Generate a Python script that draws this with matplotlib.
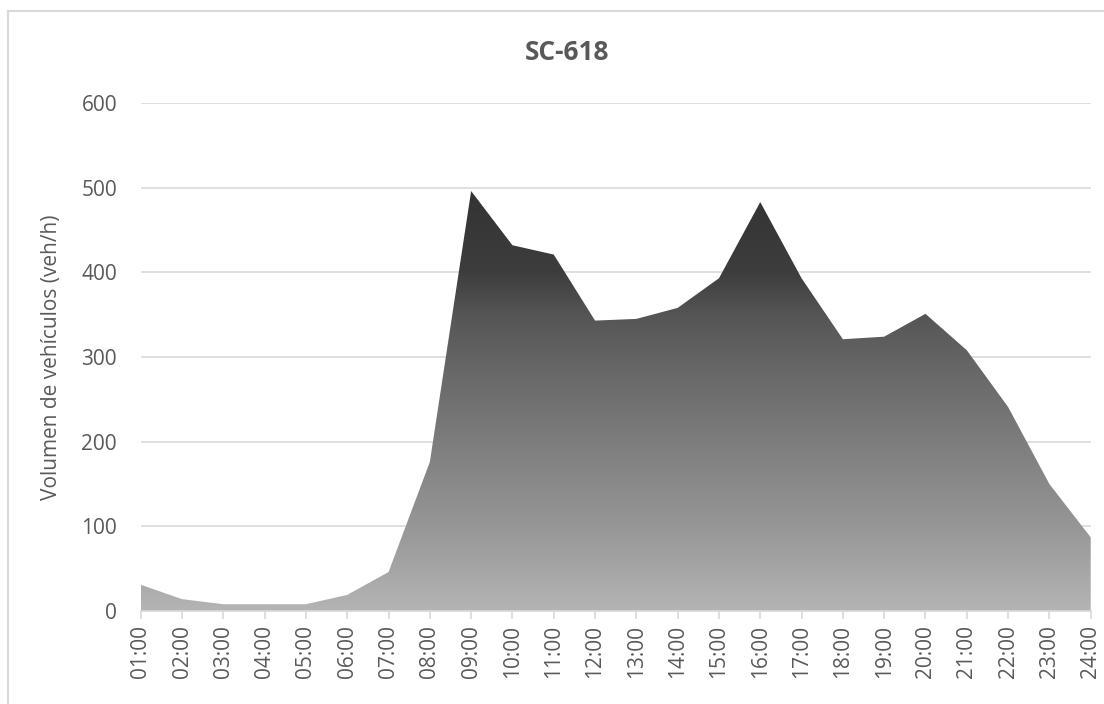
import numpy as np
import matplotlib.pyplot as plt
from matplotlib.colors import LinearSegmentedColormap
from matplotlib.lines import Line2D

hours = ["01:00", "02:00", "03:00", "04:00", "05:00", "06:00", "07:00", "08:00",
         "09:00", "10:00", "11:00", "12:00", "13:00", "14:00", "15:00", "16:00",
         "17:00", "18:00", "19:00", "20:00", "21:00", "22:00", "23:00", "24:00"]
volume = [31, 14, 8, 8, 8, 19, 46, 176, 496, 432, 421, 343, 345, 358, 393, 483,
          393, 321, 324, 351, 308, 241, 150, 87]

title = "SC-618"
ylabel = "Volumen de vehículos (veh/h)"

plt.rcParams["font.family"] = ["Open Sans", "DejaVu Sans"]
text_color = "#595959"
grid_color = "#d9d9d9"

fig = plt.figure(figsize=(11.04, 7.04), dpi=100)
ax = fig.add_axes([140.7 / 1104, (704 - 611) / 704, 950 / 1104, 508 / 704])

x = np.arange(len(hours))
y = np.asarray(volume, dtype=float)

# area outline, then a vertical gray gradient clipped to it
poly = ax.fill_between(x, 0, y, facecolor="none", edgecolor="none", zorder=2)
stops = [(0.0, "#b4b4b4"), (0.2, "#969696"), (0.4, "#7d7d7d"), (0.6, "#636363"),
         (0.7, "#555555"), (0.8, "#3d3d3d"), (1.0, "#333333")]
cmap = LinearSegmentedColormap.from_list("area_grad", stops)
grad = np.linspace(0, 1, 256).reshape(-1, 1)
img = ax.imshow(grad, cmap=cmap, origin="lower", aspect="auto",
                extent=[x[0], x[-1], 0, 500], zorder=2, interpolation="bilinear")
img.set_clip_path(poly.get_paths()[0], transform=ax.transData)

ax.set_xlim(x[0], x[-1])
ax.set_ylim(0, 600)
ax.set_yticks(range(0, 601, 100))
ax.set_xticks(x)
ax.set_xticklabels(hours, rotation=90)

ax.grid(axis="y", color=grid_color, linewidth=1.2, zorder=0)
ax.set_axisbelow(True)
for side in ("top", "right", "left"):
    ax.spines[side].set_visible(False)
ax.spines["bottom"].set_color(grid_color)
ax.spines["bottom"].set_linewidth(1.2)
ax.spines["bottom"].set_zorder(3)

ax.tick_params(axis="x", colors=text_color, labelsize=15, length=6,
               width=1.2, color=grid_color, pad=4)
ax.tick_params(axis="y", colors=text_color, labelsize=15, length=0, pad=17)

ax.set_ylabel(ylabel, color=text_color, fontsize=15)
ax.yaxis.set_label_coords(-0.0832, 0.5)
fig.text(566.7 / 1104, 1 - 52 / 704, title, ha="center", va="center",
         fontsize=19, fontweight="bold", color=text_color)

# outer chart frame (top and left edges)
fig.add_artist(Line2D([8 / 1104, 1.0], [1 - 10.5 / 704, 1 - 10.5 / 704],
                      transform=fig.transFigure, color="#d9d9d9", linewidth=1.5))
fig.add_artist(Line2D([8 / 1104, 8 / 1104], [0, 1 - 10.5 / 704],
                      transform=fig.transFigure, color="#d9d9d9", linewidth=1.5))

fig.savefig("out.png", dpi=100)
plt.close(fig)
